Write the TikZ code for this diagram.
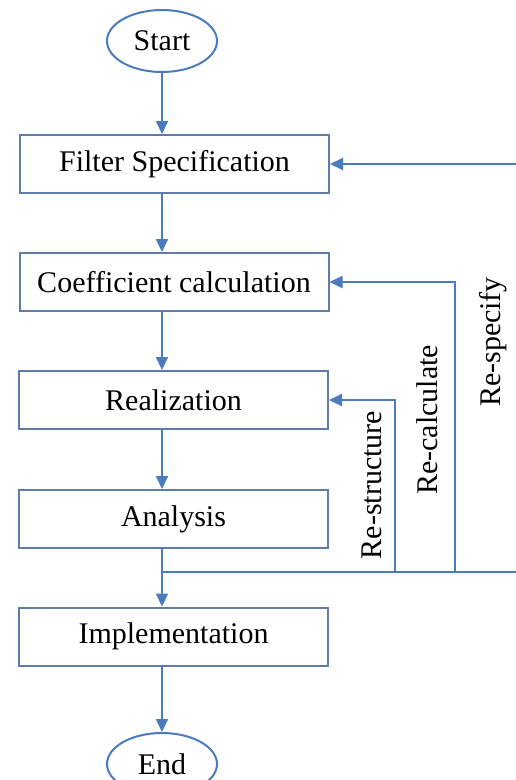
\documentclass[tikz,border=0pt]{standalone}
\usepackage{fontspec}
\setmainfont{Liberation Serif}
\usetikzlibrary{arrows.meta,shapes.geometric}
\definecolor{flow}{HTML}{4A7BBF}
\definecolor{boxline}{HTML}{5E7CA6}
\tikzset{
  procbox/.style={draw=boxline, line width=2pt, rectangle, minimum width=309pt, minimum height=58pt, inner sep=0pt, font=\fontsize{30}{36}\selectfont},
  termnode/.style={draw=flow, line width=2pt, ellipse, minimum width=110pt, minimum height=62pt, inner sep=0pt, font=\fontsize{30}{36}\selectfont},
  arr/.style={draw=flow, line width=2pt, -{Triangle[length=13pt,width=12pt]}},
  ln/.style={draw=flow, line width=2pt},
  vlabel/.style={rotate=90, font=\fontsize{30}{36}\selectfont, inner sep=0pt}
}
\begin{document}
\begin{tikzpicture}[x=1pt,y=1pt]
\useasboundingbox (0,0) rectangle (515,-780);
\node[termnode] (start) at (162,-41) {Start};
\node[procbox] (filt) at (174.5,-164) {Filter Specification};
\node[procbox] (coef) at (174,-282) {Coefficient calculation};
\node[procbox] (real) at (173.5,-400) {Realization};
\node[procbox] (ana) at (173.5,-519) {Analysis};
\node[procbox] (impl) at (173.5,-636.5) {Implementation};
\node[termnode] (end) at (162,-764) {End};
\coordinate (j) at (162,-572);
\coordinate (rs) at (395,-572);
\coordinate (rc) at (455,-572);
\coordinate (rp) at (518,-572);
\draw[arr] (start.south) -- (start.south |- filt.north);
\draw[arr] (filt.south -| start) -- (coef.north -| start);
\draw[arr] (coef.south -| start) -- (real.north -| start);
\draw[arr] (real.south -| start) -- (ana.north -| start);
\draw[arr] (ana.south -| start) -- (impl.north -| start);
\draw[arr] (impl.south -| start) -- (end.north);
\draw[ln] (j) -- (rp);
\draw[arr] (rs) -- (rs |- real.east) -- (real.east);
\draw[arr] (rc) -- (rc |- coef.east) -- (coef.east);
\draw[arr] (rp) -- (rp |- filt.east) -- (filt.east);
\node[vlabel] (lrs) at (372,-485) {Re-structure};
\node[vlabel] (lrc) at (427,-420) {Re-calculate};
\node[vlabel] (lrp) at (493,-342) {Re-specify};
\end{tikzpicture}
\end{document}
